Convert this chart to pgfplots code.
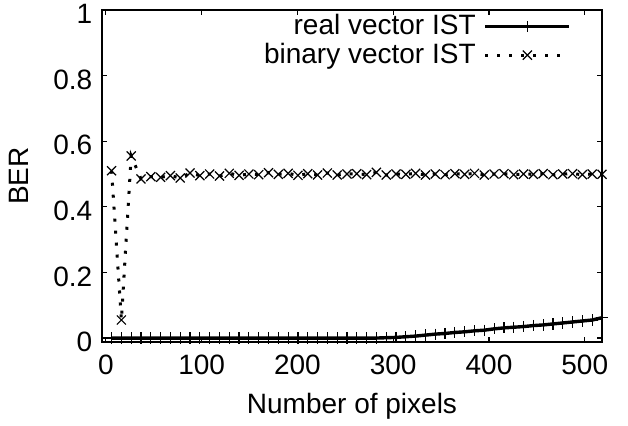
\documentclass[border=0pt]{standalone}
\usepackage{pgfplots}
\pgfplotsset{compat=1.18}
\usepackage{fontspec}
\setmainfont{Liberation Sans}

\begin{document}
\fontsize{14}{16}\selectfont
\begin{tikzpicture}
\begin{axis}[
    scale only axis,
    width=250pt, height=166pt,
    xmin=-4, xmax=518,
    ymin=-0.012, ymax=1.0,
    xtick={0,100,200,300,400,500},
    ytick={0,0.2,0.4,0.6,0.8,1},
    tick align=inside,
    major tick length=2.5pt,
    axis line style={line width=0.8pt},
    every tick/.style={black,line width=0.6pt},
    xlabel={Number of pixels},
    ylabel={BER},
    /pgf/number format/assume math mode=true,
    ticklabel style={font=\fontsize{14}{16}\selectfont},
    xticklabel style={yshift=-1.5pt},
    yticklabel style={yshift=-2pt},
    label style={font=\fontsize{14}{16}\selectfont},
    xlabel style={yshift=0pt},
    ylabel style={yshift=3pt},
    legend style={draw=none, fill=none, at={(rel axis cs:0.951,1.012)}, anchor=north east,
        font=\fontsize{14}{15}\selectfont, row sep=-2pt},
    legend cell align=right,
    legend plot pos=right,
    legend image code/.code={
        \path (0pt,0pt);
        \draw[#1,mark=none] (2pt,0pt) -- (44pt,0pt);
        \draw[#1,solid] plot coordinates {(23pt,0pt)};
    },
]
\addplot[black, line width=1.7pt, mark=+, mark size=2.8pt, mark options={solid,line width=0.6pt}] coordinates {
(6.00,0) (16.24,0) (26.48,0) (36.72,0) (46.96,0) (57.20,0) (67.44,0) (77.68,0)
(87.92,0) (98.16,0) (108.40,0) (118.64,0) (128.88,0) (139.12,0) (149.36,0)
(159.60,0) (169.84,0) (180.08,0) (190.32,0) (200.56,0) (210.80,0) (221.04,0)
(231.28,0) (241.52,0) (251.76,0) (262.00,0) (272.24,0) (282.48,0) (292.72,0.001)
(302.96,0.002) (313.20,0.004) (323.44,0.006) (333.68,0.009) (343.92,0.012)
(354.16,0.014) (364.40,0.017) (374.64,0.019) (384.88,0.022) (395.12,0.024)
(405.36,0.028) (415.60,0.031) (425.84,0.033) (436.08,0.035) (446.32,0.038)
(456.56,0.040) (466.80,0.043) (477.04,0.046) (487.28,0.049) (497.52,0.052)
(507.76,0.055) (518.00,0.062)
};
\addlegendentry{real vector IST}
\addplot[black, line width=1.5pt, dash pattern=on 1.5pt off 4.5pt, mark=x, mark size=3.2pt, mark options={solid,line width=0.6pt}] coordinates {
(6.00,0.510) (16.24,0.055) (26.48,0.555) (36.72,0.485) (46.96,0.492) (57.20,0.490)
(67.44,0.495) (77.68,0.488) (87.92,0.503) (98.16,0.495) (108.40,0.500) (118.64,0.494)
(128.88,0.502) (139.12,0.496) (149.36,0.500) (159.60,0.498) (169.84,0.504)
(180.08,0.499) (190.32,0.502) (200.56,0.496) (210.80,0.501) (221.04,0.497)
(231.28,0.503) (241.52,0.497) (251.76,0.500) (262.00,0.501) (272.24,0.498)
(282.48,0.505) (292.72,0.497) (302.96,0.500) (313.20,0.499) (323.44,0.502)
(333.68,0.497) (343.92,0.500) (354.16,0.498) (364.40,0.501) (374.64,0.499)
(384.88,0.502) (395.12,0.497) (405.36,0.500) (415.60,0.501) (425.84,0.498)
(436.08,0.500) (446.32,0.499) (456.56,0.501) (466.80,0.498) (477.04,0.500)
(487.28,0.501) (497.52,0.498) (507.76,0.500) (518.00,0.499)
};
\addlegendentry{binary vector IST}
\end{axis}
\pgfresetboundingbox
\path (current axis.south west) ++(-51pt,-42pt) rectangle ([xshift=13pt,yshift=5pt]current axis.north east);
\end{tikzpicture}
\end{document}
